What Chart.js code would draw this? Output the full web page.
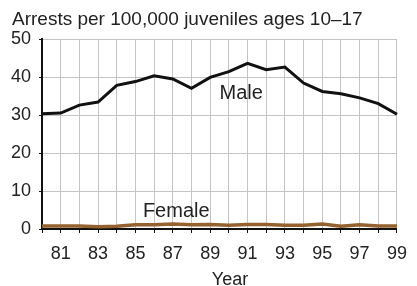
<!DOCTYPE html>
<html>
<head>
<meta charset="utf-8">
<script src="https://cdn.jsdelivr.net/npm/chart.js@4/dist/chart.umd.min.js"></script>
<style>
    html, body { margin: 0; padding: 0; background: #ffffff; }
    #wrap { width: 417px; height: 286px; }
</style>
</head>
<body>
<div id="wrap"><canvas id="arrests-chart"></canvas></div>
<script>
const years = ['80', '81', '82', '83', '84', '85', '86', '87', '88', '89',
               '90', '91', '92', '93', '94', '95', '96', '97', '98', '99'];
const maleRates = [30.3, 30.5, 32.6, 33.4, 37.8, 38.8, 40.3, 39.5, 37.0, 39.9,
                   41.4, 43.6, 41.9, 42.6, 38.4, 36.2, 35.6, 34.5, 33.0, 30.2];
const femaleRates = [0.8, 0.8, 0.8, 0.6, 0.7, 1.1, 1.1, 1.3, 1.1, 1.2,
                     1.0, 1.2, 1.2, 1.0, 1.0, 1.3, 0.7, 1.1, 0.8, 0.8];
const yTicks = [0, 10, 20, 30, 40, 50];

const FONT = "'Liberation Sans', Arial, sans-serif";
const TEXT = '#222222';

// title, axis title and the in-plot series labels
const textPlugin = {
    id: 'textPlugin',
    afterDraw(chart) {
        const ctx = chart.ctx;
        const x = chart.scales.x;
        const y = chart.scales.y;
        ctx.save();
        ctx.fillStyle = TEXT;
        ctx.textAlign = 'left';
        ctx.textBaseline = 'alphabetic';
        ctx.font = '19px ' + FONT;
        ctx.fillText('Arrests per 100,000 juveniles ages 10\u201317', 12, 25);
        ctx.font = '20px ' + FONT;
        ctx.fillText('Male', x.getPixelForValue(9.5), y.getPixelForValue(34.2));
        ctx.fillText('Female', x.getPixelForValue(5.4), y.getPixelForValue(3.1));
        ctx.font = '18px ' + FONT;
        ctx.textAlign = 'center';
        ctx.fillText('Year', 230, 285);
        ctx.restore();
    }
};

new Chart(document.getElementById('arrests-chart'), {
    type: 'line',
    data: {
        labels: years,
        datasets: [{
            label: 'Male',
            data: maleRates,
            borderColor: '#111111',
            borderWidth: 3,
            pointRadius: 0,
            tension: 0
        }, {
            label: 'Female',
            data: femaleRates,
            borderColor: '#94612f',
            borderWidth: 3.5,
            pointRadius: 0,
            tension: 0
        }]
    },
    options: {
        responsive: true,
        maintainAspectRatio: false,
        animation: false,
        layout: {
            padding: { top: 39, left: 0, right: 9, bottom: 0 }
        },
        plugins: {
            legend: { display: false },
            tooltip: { enabled: false }
        },
        scales: {
            x: {
                type: 'category',
                offset: false,
                afterFit(scale) { scale.height = 57; },
                grid: {
                    offset: false,
                    color: '#c4c4c4',
                    lineWidth: 1,
                    tickColor: '#111111',
                    tickLength: 4
                },
                border: { color: '#111111', width: 2 },
                ticks: {
                    autoSkip: false,
                    maxRotation: 0,
                    padding: 10,
                    color: TEXT,
                    font: { size: 18, family: FONT },
                    callback: function(value, index) {
                        return index % 2 === 1 ? years[index] : '';
                    }
                }
            },
            y: {
                min: 0,
                max: 50,
                afterFit(scale) { scale.width = 42; },
                grid: {
                    color: '#c4c4c4',
                    lineWidth: 1,
                    tickColor: '#111111',
                    tickLength: 3
                },
                border: { color: '#111111', width: 2 },
                ticks: {
                    stepSize: 5,
                    padding: 8,
                    color: TEXT,
                    font: { size: 18, family: FONT },
                    callback: function(value) {
                        return yTicks.includes(value) ? String(value) : '';
                    }
                }
            }
        }
    },
    plugins: [textPlugin]
});
</script>
</body>
</html>
